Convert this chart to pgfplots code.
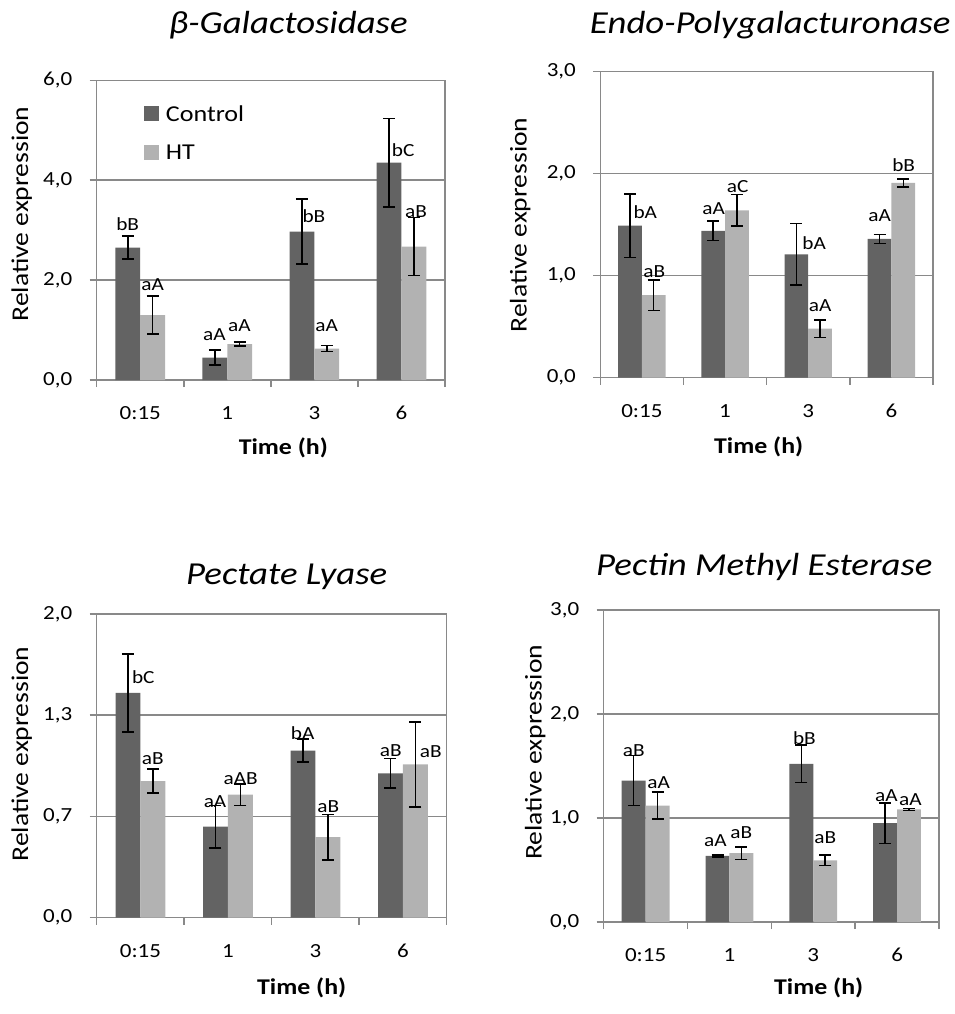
\documentclass[border=0pt]{standalone}
\usepackage{fontspec}
\setmainfont{Carlito}[FakeStretch=1.15]
\usepackage{pgfplots}
\usepackage{pgfplotstable}
\pgfplotsset{compat=1.18}

\definecolor{ctrl}{RGB}{99,99,99}
\definecolor{heat}{RGB}{178,178,178}
\definecolor{frame}{RGB}{137,137,137}

\newcommand{\fsz}[1]{\fontsize{#1}{#1}\selectfont}

% mean and standard error per time point: c = Control, h = HT
\pgfplotstableread{
x c    ce    h    he
0 2.65 0.23  1.30 0.38
1 0.45 0.15  0.72 0.04
2 2.97 0.65  0.63 0.06
3 4.35 0.89  2.67 0.58
}\galtab
\pgfplotstableread{
x c    ce    h    he
0 1.49 0.31  0.81 0.15
1 1.44 0.095 1.64 0.155
2 1.21 0.30  0.48 0.085
3 1.36 0.045 1.91 0.04
}\pgtab
\pgfplotstableread{
x c    ce    h    he
0 1.48 0.257 0.90 0.08
1 0.60 0.14  0.81 0.07
2 1.10 0.076 0.53 0.15
3 0.95 0.097 1.01 0.28
}\pltab
\pgfplotstableread{
x c     ce    h     he
0 1.36  0.24  1.12  0.13
1 0.635 0.01  0.663 0.06
2 1.52  0.18  0.593 0.05
3 0.95  0.195 1.083 0.01
}\pmetab

\tikzset{lbl/.style={font=\fsz{18.5}, inner sep=0pt}}

\pgfplotsset{
  panel/.style={
    scale only axis, anchor=south west, clip=false,
    xmin=-0.5, xmax=3.5, ymin=0,
    axis line style={frame, line width=1.5pt},
    xtick={-0.5,0.5,1.5,2.5,3.5}, xticklabels={},
    extra x ticks={0,1,2,3}, extra x tick labels={0:15,1,3,6},
    extra x tick style={major tick length=0pt},
    xtick pos=left, ytick pos=left,
    tick align=outside, major tick length=7pt,
    tick style={frame, line width=1.5pt},
    ymajorgrids, grid style={frame, line width=1.5pt},
    tick label style={font=\fsz{20}},
    xticklabel style={anchor=center, yshift=-33pt},
    yticklabel style={anchor=center, xshift=-32pt},
  },
  errs/.style={
    error bars/y dir=both, error bars/y explicit,
    error bars/error mark=-,
    error bars/error bar style={draw=black, line width=1.5pt},
    error bars/error mark options={draw=black, line width=1.5pt, mark size=6pt, rotate=90},
  },
  % bars sit at the category position moved left (Control) or right (HT)
  cbar/.style={ybar, bar width=0.285, bar shift=0pt, fill=ctrl, draw=none, errs},
  hbar/.style={ybar, bar width=0.285, bar shift=0pt, fill=heat, draw=none, errs},
}

\begin{document}
\begin{tikzpicture}
\useasboundingbox (0pt,0pt) rectangle (954pt,-1014pt);

% beta-Galactosidase
\begin{axis}[panel, at={(96.7pt,-380pt)}, width=348.3pt, height=299.7pt,
  ymax=6, ytick={0,2,4,6}, yticklabels={{0,0},{2,0},{4,0},{6,0}},
  legend style={at={(axis cs:-0.5,6)}, anchor=north west, xshift=47pt, yshift=-25pt,
    draw=none, fill=none, font=\fsz{22.7}, inner sep=0pt, row sep=22pt,
    nodes={inner sep=0pt}, /tikz/every odd column/.append style={column sep=7pt}},
  legend cell align=left]
\addplot[cbar, legend image code/.code={\fill[ctrl] (0pt,-7pt) rectangle (15pt,8pt);}]
  table[x expr=\thisrow{x}-0.1425, y=c, y error=ce]{\galtab};
\addlegendentry{Control}
\addplot[hbar, legend image code/.code={\fill[heat] (0pt,-7pt) rectangle (15pt,8pt);}]
  table[x expr=\thisrow{x}+0.1425, y=h, y error=he]{\galtab};
\addlegendentry{HT}
\node[lbl] at (axis cs:-0.144,3.12) {bB};
\node[lbl] at (axis cs:0.143,1.90) {aA};
\node[lbl] at (axis cs:0.851,0.91) {aA};
\node[lbl] at (axis cs:1.138,1.08) {aA};
\node[lbl] at (axis cs:1.995,3.28) {bB};
\node[lbl] at (axis cs:2.141,1.09) {aA};
\node[lbl] at (axis cs:3.02,4.60) {bC};
\node[lbl] at (axis cs:3.167,3.38) {aB};
\end{axis}

% Endo-Polygalacturonase
\begin{axis}[panel, at={(600.3pt,-377.7pt)}, width=332.7pt, height=306pt,
  ymax=3, ytick={0,1,2,3}, yticklabels={{0,0},{1,0},{2,0},{3,0}}]
\addplot[cbar] table[x expr=\thisrow{x}-0.1425, y=c, y error=ce]{\pgtab};
\addplot[hbar] table[x expr=\thisrow{x}+0.1425, y=h, y error=he]{\pgtab};
\node[lbl] at (axis cs:0.041,1.62) {bA};
\node[lbl] at (axis cs:0.149,1.04) {aB};
\node[lbl] at (axis cs:0.863,1.66) {aA};
\node[lbl] at (axis cs:1.151,1.87) {aC};
\node[lbl] at (axis cs:2.072,1.32) {bA};
\node[lbl] at (axis cs:2.144,0.71) {aA};
\node[lbl] at (axis cs:2.858,1.585) {aA};
\node[lbl] at (axis cs:3.147,2.085) {bB};
\end{axis}

% Pectate Lyase
\begin{axis}[panel, at={(96.7pt,-917.7pt)}, width=350pt, height=303.7pt,
  ymax=2, ytick={0,0.66667,1.33333,2}, yticklabels={{0,0},{0,7},{1,3},{2,0}}]
\addplot[cbar] table[x expr=\thisrow{x}-0.1425, y=c, y error=ce]{\pltab};
\addplot[hbar] table[x expr=\thisrow{x}+0.1425, y=h, y error=he]{\pltab};
\node[lbl] at (axis cs:0.033,1.583) {bC};
\node[lbl] at (axis cs:0.14,1.045) {aB};
\node[lbl] at (axis cs:0.852,0.764) {aA};
\node[lbl] at (axis cs:1.146,0.918) {aAB};
\node[lbl] at (axis cs:1.854,1.218) {bA};
\node[lbl] at (axis cs:2.147,0.731) {aB};
\node[lbl] at (axis cs:2.86,1.10) {aB};
\node[lbl] at (axis cs:3.317,1.091) {aB};
\end{axis}

% Pectin Methyl Esterase
\begin{axis}[panel, at={(603.7pt,-922pt)}, width=335.3pt, height=312pt,
  ymax=3, ytick={0,1,2,3}, yticklabels={{0,0},{1,0},{2,0},{3,0}}]
\addplot[cbar] table[x expr=\thisrow{x}-0.1425, y=c, y error=ce]{\pmetab};
\addplot[hbar] table[x expr=\thisrow{x}+0.1425, y=h, y error=he]{\pmetab};
\node[lbl] at (axis cs:-0.142,1.647) {aB};
\node[lbl] at (axis cs:0.156,1.34) {aA};
\node[lbl] at (axis cs:0.832,0.779) {aA};
\node[lbl] at (axis cs:1.142,0.859) {aB};
\node[lbl] at (axis cs:1.894,1.766) {bB};
\node[lbl] at (axis cs:2.144,0.814) {aB};
\node[lbl] at (axis cs:2.872,1.212) {aA};
\node[lbl] at (axis cs:3.158,1.18) {aA};
\end{axis}

% panel titles
\node[font=\fsz{32}\itshape] at (288.3pt,-25pt) {β-Galactosidase};
\node[font=\fsz{32}\itshape] at (770.3pt,-25pt) {Endo-Polygalacturonase};
\node[font=\fsz{32}\itshape] at (286.7pt,-576.7pt) {Pectate Lyase};
\node[font=\fsz{32}\itshape] at (764.3pt,-566.7pt) {Pectin Methyl Esterase};

% axis titles
\node[font=\fsz{24}, rotate=90] at (21.7pt,-214pt) {Relative expression};
\node[font=\fsz{24}, rotate=90] at (520.3pt,-225pt) {Relative expression};
\node[font=\fsz{24}, rotate=90] at (21.7pt,-754pt) {Relative expression};
\node[font=\fsz{24}, rotate=90] at (535.3pt,-752.3pt) {Relative expression};
\node[font=\fsz{22.5}\bfseries] at (283.3pt,-448.3pt) {Time (h)};
\node[font=\fsz{22.5}\bfseries] at (758.7pt,-446.7pt) {Time (h)};
\node[font=\fsz{22.5}\bfseries] at (301.7pt,-988.3pt) {Time (h)};
\node[font=\fsz{22.5}\bfseries] at (818.7pt,-988.3pt) {Time (h)};
\end{tikzpicture}
\end{document}
